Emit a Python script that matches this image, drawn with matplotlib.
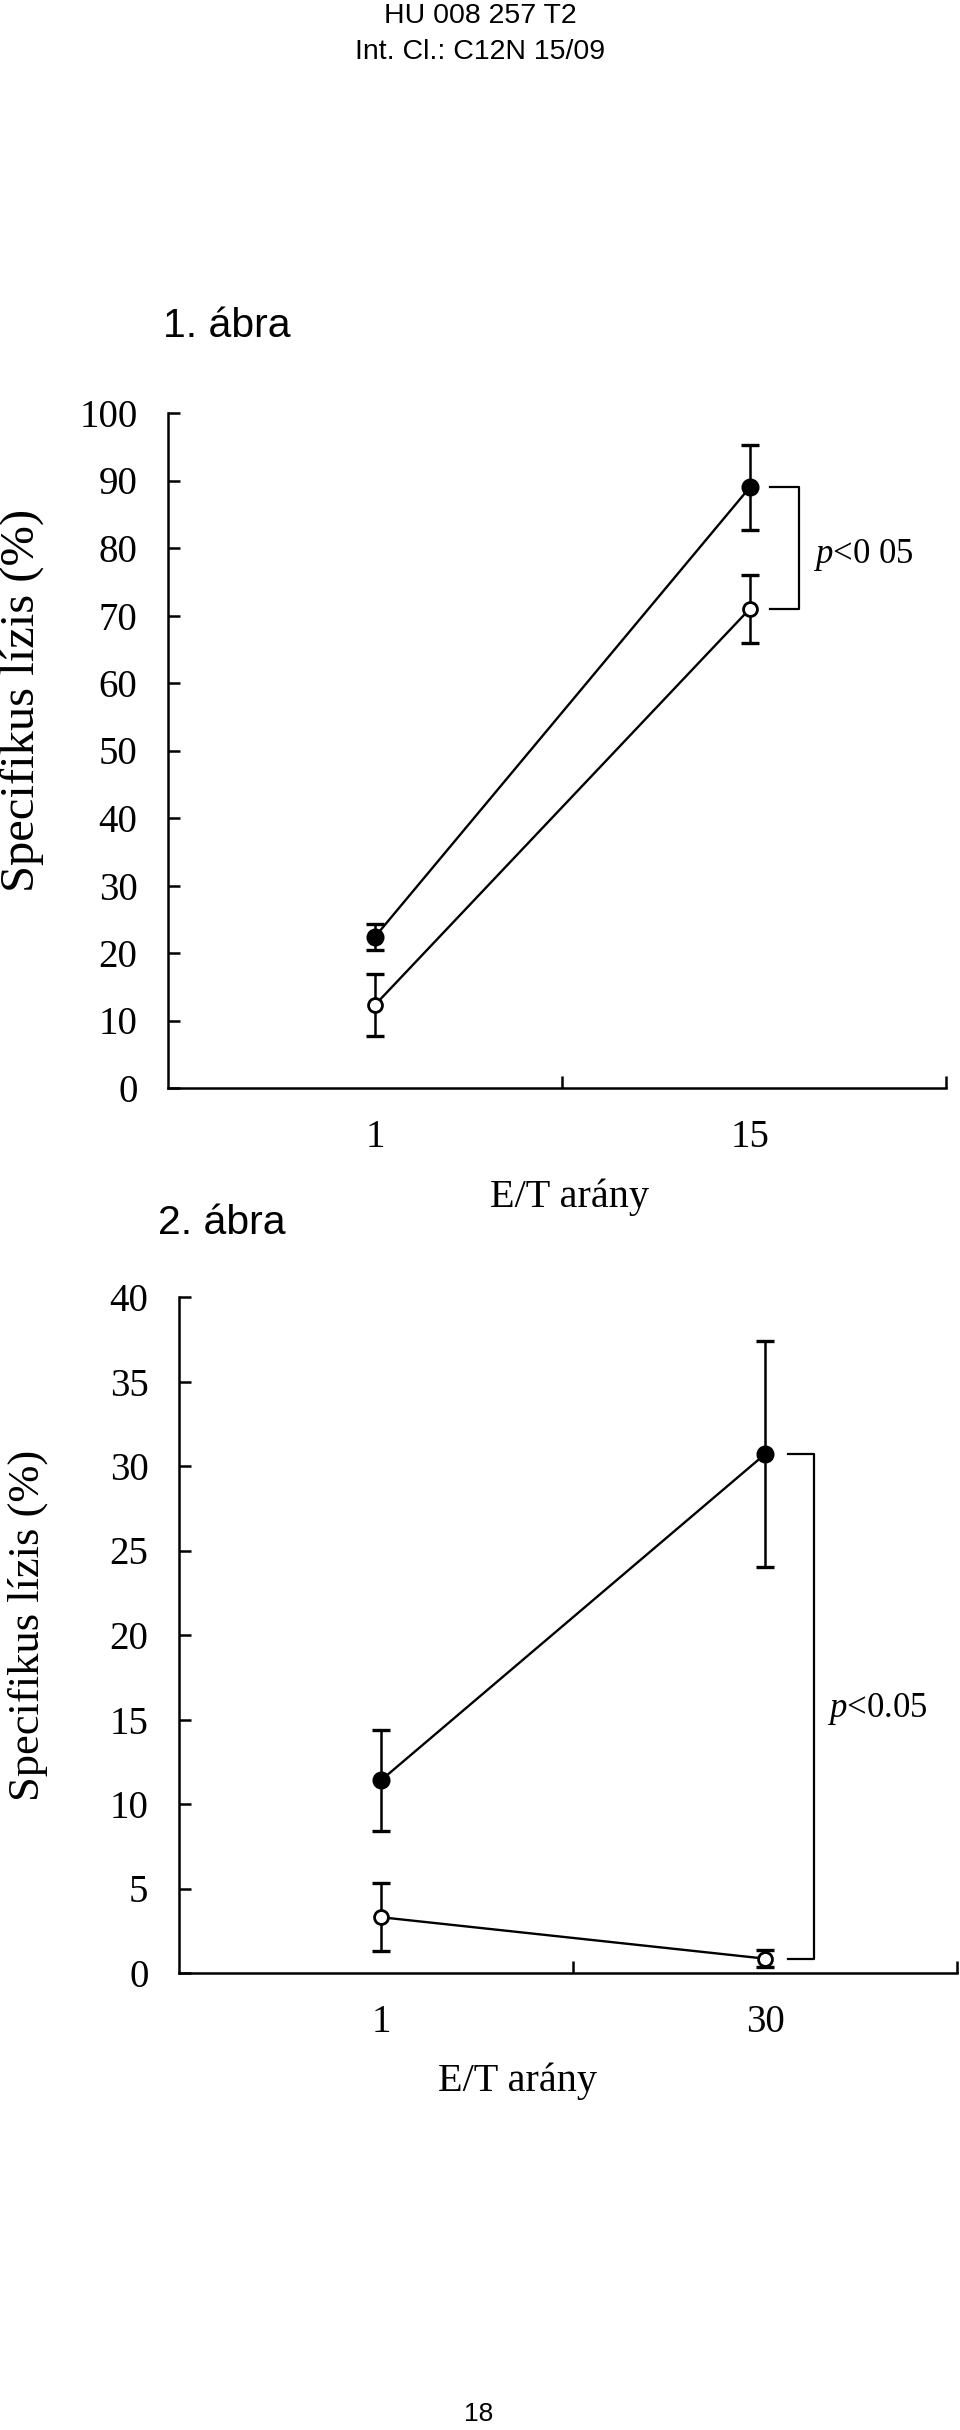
import matplotlib
matplotlib.use("Agg")
import matplotlib.pyplot as plt
from matplotlib.ticker import FixedLocator

plt.rcParams["mathtext.fontset"] = "custom"
plt.rcParams["mathtext.rm"] = "Liberation Serif"
plt.rcParams["mathtext.it"] = "Liberation Serif:italic"

# ---------------- data ----------------
ratios_top = ["1", "15"]
filled_top = [22.4, 89.0]
filled_top_err = [1.9, 6.3]
open_top = [12.3, 71.0]
open_top_err = [4.6, 5.0]
yticks_top = [0, 10, 20, 30, 40, 50, 60, 70, 80, 90, 100]
p_text_top = r"$\mathit{p}$<0 05"

ratios_bot = ["1", "30"]
filled_bot = [11.4, 30.7]
filled_bot_err = [3.0, 6.7]
open_bot = [3.3, 0.85]
open_bot_err = [2.0, 0.5]
yticks_bot = [0, 5, 10, 15, 20, 25, 30, 35, 40]
p_text_bot = r"$\mathit{p}$<0.05"

ylabel = "Specifikus lízis (%)"
xlabel = "E/T arány"

# ---------------- figure ----------------
W, H = 960, 2430
DPI = 100
fig = plt.figure(figsize=(W / DPI, H / DPI), dpi=DPI)
fig.patch.set_facecolor("white")

SERIF = ["Liberation Serif", "DejaVu Serif"]
SANS = ["Liberation Sans", "DejaVu Sans"]


def px_rect(left, right, top, bottom):
    return [left / W, 1 - bottom / H, (right - left) / W, (bottom - top) / H]


def draw_panel(rect, labels, f_vals, f_err, o_vals, o_err, yticks, xlim,
               bracket_x, p_text, p_pos):
    ax = fig.add_axes(rect)
    pos = list(range(1, len(labels) + 1))
    ax.set_xlim(*xlim)
    ax.set_ylim(yticks[0], yticks[-1])
    for s in ("top", "right"):
        ax.spines[s].set_visible(False)
    for s in ("left", "bottom"):
        ax.spines[s].set_linewidth(1.8)
    # lines
    ax.plot(pos, f_vals, color="black", lw=1.7, zorder=2)
    ax.plot(pos, o_vals, color="black", lw=1.7, zorder=2)
    # error bars
    ax.errorbar(pos, f_vals, yerr=f_err, fmt="none", ecolor="black",
                elinewidth=1.8, capsize=6.5, capthick=2.4, zorder=3)
    ax.errorbar(pos, o_vals, yerr=o_err, fmt="none", ecolor="black",
                elinewidth=1.8, capsize=6.5, capthick=2.4, zorder=3)
    # markers
    ax.plot(pos, f_vals, ls="none", marker="o", ms=11.5, mfc="black",
            mec="black", mew=1.5, zorder=4)
    ax.plot(pos, o_vals, ls="none", marker="o", ms=10, mfc="white",
            mec="black", mew=2.0, zorder=4)
    # bracket between the two groups at the last ratio
    x0, x1 = bracket_x
    ax.plot([x0, x1, x1, x0], [f_vals[-1], f_vals[-1], o_vals[-1], o_vals[-1]],
            color="black", lw=1.6, zorder=2, clip_on=False)
    ax.text(p_pos[0], p_pos[1], p_text, ha="left", va="center",
            fontsize=25, family=SERIF)
    # y ticks
    ax.set_yticks(yticks)
    ax.set_yticklabels([str(t) for t in yticks], family=SERIF, fontsize=28)
    ax.tick_params(axis="y", direction="in", length=8.5, width=1.8, pad=22)
    # x ticks: labels at categories, small inward marks between/at end
    ax.set_xticks(pos)
    ax.set_xticklabels(labels, family=SERIF, fontsize=28)
    ax.tick_params(axis="x", which="major", length=0, pad=22)
    ax.xaxis.set_minor_locator(FixedLocator([1.5, xlim[1]]))
    ax.tick_params(axis="x", which="minor", direction="in", length=8.5,
                   width=1.8)
    return ax


# top panel (1. ábra)
draw_panel(px_rect(168, 946, 413, 1088), ratios_top, filled_top,
           filled_top_err, open_top, open_top_err, yticks_top,
           (0.448, 2.523), (2.053, 2.131), p_text_top, (2.168, 79.0))

# bottom panel (2. ábra)
draw_panel(px_rect(179, 957, 1297, 1973), ratios_bot, filled_bot,
           filled_bot_err, open_bot, open_bot_err, yticks_bot,
           (0.474, 2.50), (2.060, 2.128), p_text_bot, (2.161, 15.6))

# ---------------- texts ----------------
def ftext(x, y, s, **kw):
    fig.text(x / W, 1 - y / H, s, **kw)

ftext(480, 16, "HU 008 257 T2", ha="center", va="center", fontsize=20.5,
      family=SANS)
ftext(480, 52, "Int. Cl.: C12N 15/09", ha="center", va="center",
      fontsize=20.5, family=SANS)
ftext(163, 326, "1. ábra", ha="left", va="center", fontsize=29.5, family=SANS)
ftext(158, 1223, "2. ábra", ha="left", va="center", fontsize=29.5, family=SANS)

ftext(22, 700, ylabel, ha="center", va="center", rotation=90, fontsize=35,
      family=SERIF)
ftext(28, 1625, ylabel, ha="center", va="center", rotation=90, fontsize=32,
      family=SERIF)
ftext(569, 1197, xlabel, ha="center", va="center", fontsize=29, family=SERIF)
ftext(518, 2081, xlabel, ha="center", va="center", fontsize=29, family=SERIF)

ftext(479, 2414, "18", ha="center", va="center", fontsize=19, family=SANS)

fig.savefig("out.png", dpi=DPI, facecolor="white")
